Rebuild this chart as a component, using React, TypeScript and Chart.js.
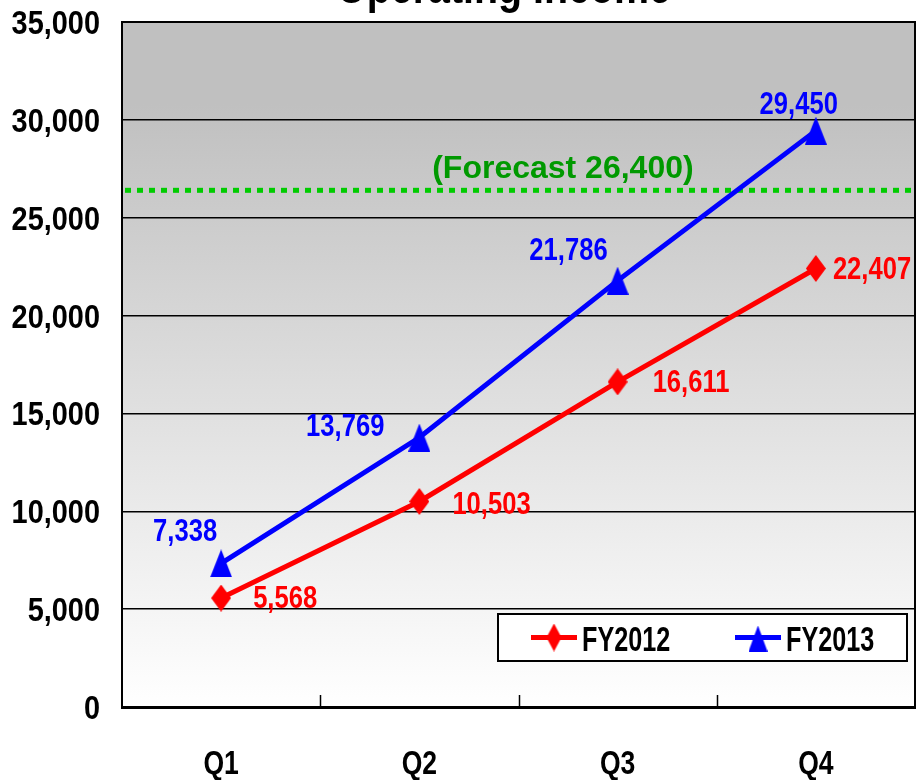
import React, { useEffect, useRef } from 'react';
import { Chart, registerables } from 'chart.js';

Chart.register(...registerables);

// ---- data ----
const categories = ['Q1', 'Q2', 'Q3', 'Q4'];
const seriesNames = ['FY2012', 'FY2013'];
const fy2012 = [5568, 10503, 16611, 22407];
const fy2013 = [7338, 13769, 21786, 29450];
const forecastValue = 26400;
const forecastLabel = '(Forecast 26,400)';
const titleText = 'Operating Income';
const yMin = 0;
const yMax = 35000;
const yStep = 5000;

// ---- style / layout (not data) ----
const FONT = '"Liberation Sans", Arial, sans-serif';
const RED = '#ff0000';
const BLUE = '#0000ff';
// label offsets from point: [dx, dy, align]
const fy2012LabelOffsets: [number, number, CanvasTextAlign][] = [
  [32, 10, 'left'], [33, 13, 'left'], [35, 10, 'left'], [17, 11, 'left'],
];
const fy2013LabelOffsets: [number, number, CanvasTextAlign][] = [
  [-4, -22, 'right'], [-35, -2, 'right'], [-10, -21, 'right'], [22, -17, 'right'],
];

const fmt = (v: number) => Number(v).toLocaleString('en-US');

// draws bold text horizontally condensed (narrow face emulation)
function narrowText(
  ctx: CanvasRenderingContext2D, text: string, x: number, y: number,
  size: number, sx: number, align: CanvasTextAlign, color: string,
) {
  ctx.save();
  ctx.translate(x, y);
  ctx.scale(sx, 1);
  ctx.font = `bold ${size}px ${FONT}`;
  ctx.textAlign = align;
  ctx.textBaseline = 'alphabetic';
  ctx.fillStyle = color;
  ctx.fillText(text, 0, 0);
  ctx.restore();
}

function makeDiamond(w: number, h: number, color: string) {
  const c = document.createElement('canvas');
  c.width = w; c.height = h;
  const g = c.getContext('2d')!;
  g.fillStyle = color;
  g.beginPath();
  g.moveTo(w / 2, 0); g.lineTo(w, h / 2); g.lineTo(w / 2, h); g.lineTo(0, h / 2);
  g.closePath(); g.fill();
  return c;
}
function makeTriangle(w: number, h: number, color: string) {
  const c = document.createElement('canvas');
  c.width = w; c.height = h;
  const g = c.getContext('2d')!;
  g.fillStyle = color;
  g.beginPath();
  g.moveTo(w / 2, 0); g.lineTo(w, h); g.lineTo(0, h);
  g.closePath(); g.fill();
  return c;
}

export default function App() {
  const ref = useRef<HTMLCanvasElement>(null);
  useEffect(() => {
    const diamond = makeDiamond(20, 27, RED);
    const triangle = makeTriangle(22, 28, BLUE);
    const legendDiamond = makeDiamond(15, 28, RED);
    const legendTriangle = makeTriangle(19, 26, BLUE);
    const legendMarkers = [legendDiamond, legendTriangle];
    const offsets = [fy2012LabelOffsets, fy2013LabelOffsets];
    const colors = [RED, BLUE];

    const decor = {
      id: 'decor',
      beforeDraw(chart: any) {
        const { ctx, chartArea: a } = chart;
        const g = ctx.createLinearGradient(0, a.top, 0, a.bottom);
        g.addColorStop(0, '#c0c0c0');
        g.addColorStop(0.12, '#c0c0c0');
        g.addColorStop(1, '#ffffff');
        ctx.save();
        ctx.fillStyle = g;
        ctx.fillRect(a.left, a.top, a.right - a.left, a.bottom - a.top);
        ctx.restore();
      },
      beforeDatasetsDraw(chart: any) {
        const { ctx, chartArea: a } = chart;
        const y = chart.scales.y.getPixelForValue(forecastValue);
        ctx.save();
        ctx.strokeStyle = '#00cc00';
        ctx.lineWidth = 5;
        ctx.setLineDash([6, 6]);
        ctx.beginPath();
        ctx.moveTo(a.left + 3, y);
        ctx.lineTo(a.right, y);
        ctx.stroke();
        ctx.setLineDash([]);
        ctx.fillStyle = '#009900';
        ctx.font = `bold 32px ${FONT}`;
        ctx.textAlign = 'center';
        ctx.textBaseline = 'alphabetic';
        ctx.fillText(forecastLabel, a.left + 0.556 * (a.right - a.left), y - 12);
        ctx.restore();
      },
      afterDatasetsDraw(chart: any) {
        const { ctx } = chart;
        [0, 1].forEach((di) => {
          const meta = chart.getDatasetMeta(di);
          const vals = chart.data.datasets[di].data as number[];
          meta.data.forEach((pt: any, i: number) => {
            const [dx, dy, al] = offsets[di][i];
            narrowText(ctx, fmt(vals[i]), pt.x + dx, pt.y + dy, 32, 0.8, al, colors[di]);
          });
        });
      },
      afterDraw(chart: any) {
        const { ctx, chartArea: a } = chart;
        const xs = chart.scales.x;
        const ys = chart.scales.y;
        ctx.save();
        // inner tick marks between categories
        ctx.strokeStyle = '#000';
        ctx.lineWidth = 1.5;
        for (let i = 0; i < categories.length - 1; i++) {
          const x = Math.round((xs.getPixelForValue(i) + xs.getPixelForValue(i + 1)) / 2) + 0.5;
          ctx.beginPath();
          ctx.moveTo(x, a.bottom);
          ctx.lineTo(x, a.bottom - 12);
          ctx.stroke();
        }
        // top & right border
        ctx.lineWidth = 2;
        ctx.beginPath();
        ctx.moveTo(a.left, a.top);
        ctx.lineTo(a.right, a.top);
        ctx.lineTo(a.right, a.bottom);
        ctx.stroke();
        ctx.restore();

        // axis labels (narrow bold)
        ys.ticks.forEach((t: any) => {
          const y = ys.getPixelForValue(t.value);
          narrowText(ctx, fmt(t.value), a.left - 22, y + 12, 34, 0.85, 'right', '#000');
        });
        categories.forEach((c, i) => {
          narrowText(ctx, c, xs.getPixelForValue(i), a.bottom + 67, 34, 0.78, 'center', '#000');
        });

        // legend
        ctx.save();
        const lx0 = a.right - 417, lx1 = a.right - 8;
        const ly0 = a.bottom - 93, ly1 = a.bottom - 46;
        ctx.fillStyle = '#ffffff';
        ctx.fillRect(lx0, ly0, lx1 - lx0, ly1 - ly0);
        ctx.strokeStyle = '#000';
        ctx.lineWidth = 2;
        ctx.strokeRect(lx0, ly0, lx1 - lx0, ly1 - ly0);
        const cy = (ly0 + ly1) / 2;
        const itemX = [lx0 + 33, lx0 + 237];
        [0, 1].forEach((di) => {
          const x = itemX[di];
          ctx.strokeStyle = colors[di];
          ctx.lineWidth = 5;
          ctx.beginPath();
          ctx.moveTo(x, cy);
          ctx.lineTo(x + 46, cy);
          ctx.stroke();
          const m = legendMarkers[di];
          ctx.drawImage(m, x + 23 - m.width / 2, cy - m.height / 2 + (di === 1 ? 1 : 0));
          narrowText(ctx, seriesNames[di], x + 51, cy + 13.5, 35, 0.72, 'left', '#000');
        });
        ctx.restore();

        // title (mostly above the canvas)
        narrowText(ctx, titleText, (a.left + a.right) / 2 - 15, 3, 48, 0.82, 'center', '#000');
      },
    };

    const chart = new Chart(ref.current!, {
      type: 'line',
      data: {
        labels: categories,
        datasets: [
          {
            label: seriesNames[0],
            data: fy2012,
            borderColor: RED,
            backgroundColor: RED,
            borderWidth: 5,
            pointStyle: diamond as any,
            pointRadius: 12,
            tension: 0,
            fill: false,
          },
          {
            label: seriesNames[1],
            data: fy2013,
            borderColor: BLUE,
            backgroundColor: BLUE,
            borderWidth: 5,
            pointStyle: triangle as any,
            pointRadius: 12,
            tension: 0,
            fill: false,
          },
        ],
      },
      options: {
        responsive: false,
        animation: false,
        layout: { autoPadding: false, padding: { top: 22, right: 5, left: 0, bottom: 0 } },
        plugins: {
          legend: { display: false },
          title: { display: false },
          tooltip: { enabled: false },
        },
        scales: {
          x: {
            type: 'category',
            offset: true,
            grid: { display: false },
            border: { display: true, color: '#000', width: 3 },
            ticks: { display: false },
            afterFit(s: any) { s.height = 73; },
          },
          y: {
            min: yMin,
            max: yMax,
            grid: { color: '#000', lineWidth: 1.5, drawTicks: false },
            border: { display: true, color: '#000', width: 2 },
            ticks: { display: false, stepSize: yStep },
            afterFit(s: any) { s.width = 122; },
          },
        },
      },
      plugins: [decor],
    });
    return () => chart.destroy();
  }, []);

  return (
    <div style={{ position: 'fixed', left: 0, top: 0, width: 920, height: 780, background: '#fff' }}>
      <canvas ref={ref} width={920} height={780} style={{ display: 'block', width: 920, height: 780 }} />
    </div>
  );
}
